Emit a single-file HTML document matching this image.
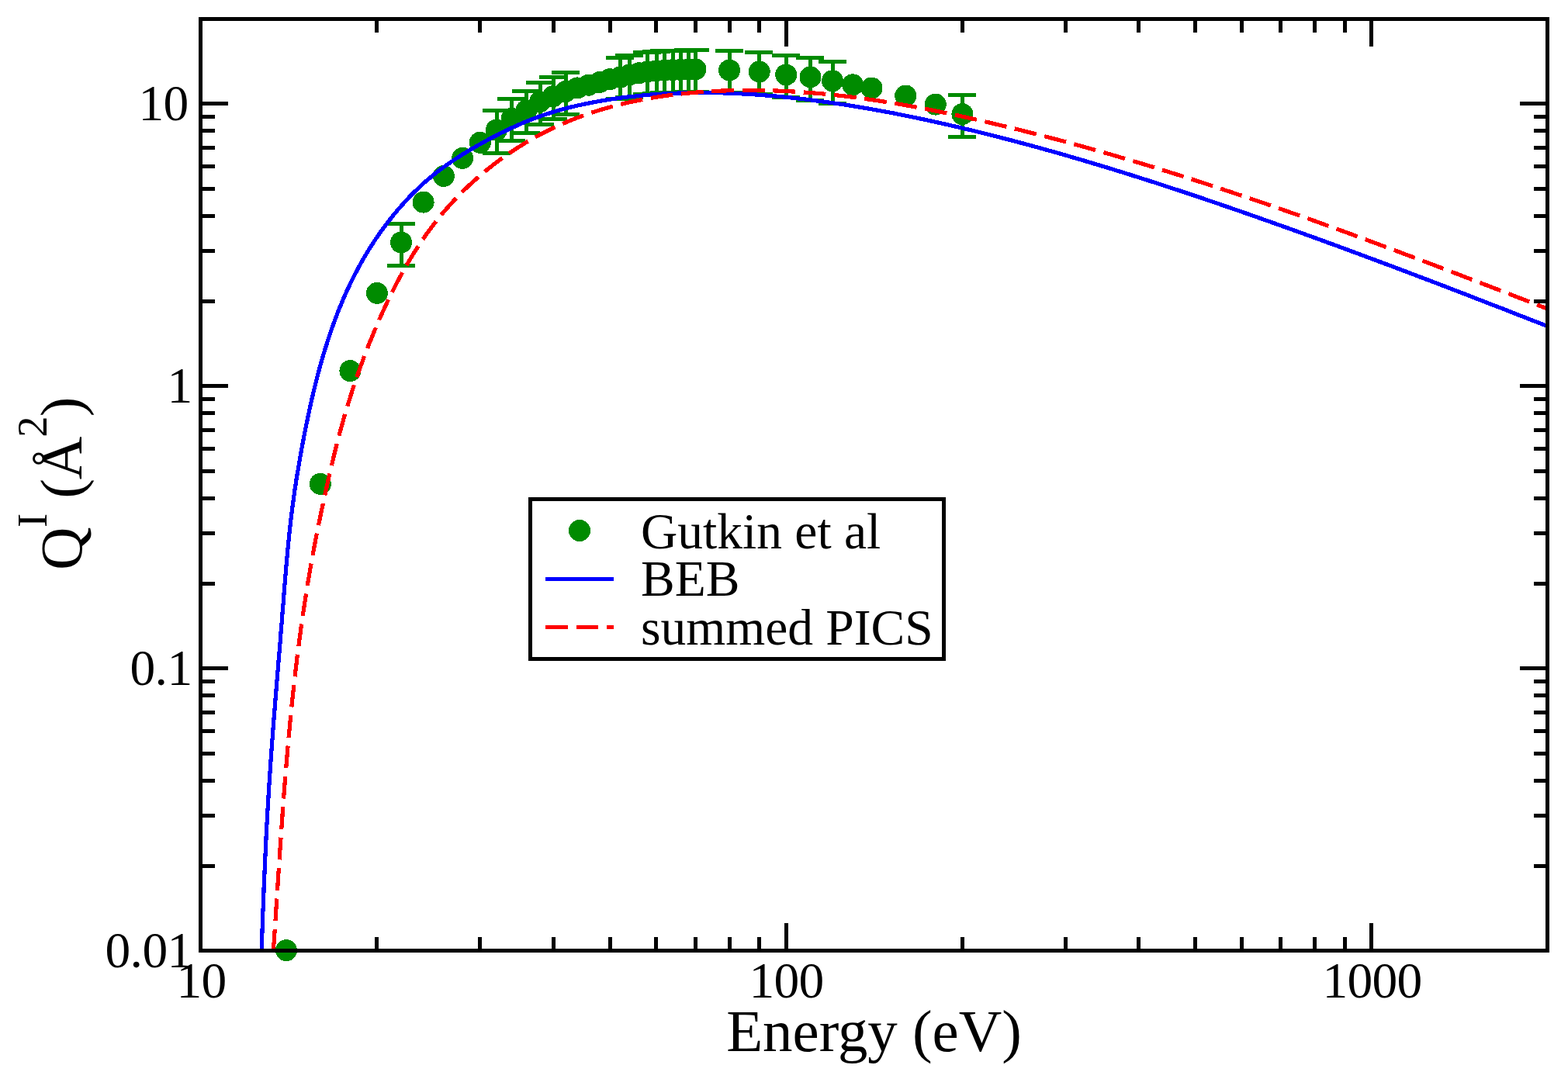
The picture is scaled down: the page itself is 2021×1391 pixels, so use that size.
<!DOCTYPE html>
<html lang="en"><head><meta charset="utf-8">
<style>html,body{margin:0;padding:0;background:#fff}body{width:2021px;height:1391px;overflow:hidden}svg{display:block}text{font-family:"Liberation Serif","DejaVu Serif",serif;fill:#000}.t{font-size:65.5px}.l{font-size:76.9px}</style></head><body>
<svg width="2021" height="1391" viewBox="0 0 2021 1391">
<rect width="2021" height="1391" fill="#fff"/>
<defs><clipPath id="c"><rect x="258.8" y="24.1" width="1736.0" height="1201.6"/></clipPath></defs>
<path d="M515 286h5v59h-5zM499 286h36v5h-36zM499 340h36v5h-36zM638 140h5v60h-5zM622 140h36v5h-36zM622 195h36v5h-36zM657 125h5v59h-5zM641 125h36v5h-36zM641 179h36v5h-36zM676 115h5v59h-5zM660 115h36v5h-36zM660 169h36v5h-36zM694 104h5v59h-5zM678 104h36v5h-36zM678 158h36v5h-36zM711 97h5v59h-5zM695 97h36v5h-36zM695 151h36v5h-36zM727 91h5v59h-5zM711 91h36v5h-36zM711 145h36v5h-36zM797 72h5v58h-5zM781 72h36v5h-36zM781 125h36v5h-36zM809 69h5v59h-5zM793 69h36v5h-36zM793 123h36v5h-36zM832 65h5v59h-5zM816 65h36v5h-36zM816 119h36v5h-36zM844 64h5v59h-5zM828 64h36v5h-36zM828 118h36v5h-36zM854 63h5v59h-5zM838 63h36v5h-36zM838 117h36v5h-36zM865 63h5v59h-5zM849 63h36v5h-36zM849 117h36v5h-36zM875 63h5v59h-5zM859 63h36v5h-36zM859 117h36v5h-36zM885 62h5v59h-5zM869 62h36v5h-36zM869 116h36v5h-36zM894 62h5v59h-5zM878 62h36v5h-36zM878 116h36v5h-36zM938 63h5v59h-5zM922 63h36v5h-36zM922 117h36v5h-36zM976 65h5v59h-5zM960 65h36v5h-36zM960 119h36v5h-36zM1011 69h5v59h-5zM995 69h36v5h-36zM995 123h36v5h-36zM1042 72h5v60h-5zM1026 72h36v5h-36zM1026 127h36v5h-36zM1071 77h5v59h-5zM1055 77h36v5h-36zM1055 131h36v5h-36zM1238 120h5v59h-5zM1222 120h36v5h-36zM1222 174h36v5h-36z" fill="#008b00" shape-rendering="crispEdges"/>
<g fill="#008b00" shape-rendering="crispEdges">
<circle cx="369.0" cy="1225.2" r="14.0"/>
<circle cx="412.8" cy="623.9" r="14.0"/>
<circle cx="451.4" cy="478.1" r="14.0"/>
<circle cx="485.9" cy="377.9" r="14.0"/>
<circle cx="517.1" cy="312.5" r="14.0"/>
<circle cx="545.6" cy="260.6" r="14.0"/>
<circle cx="571.9" cy="227.0" r="14.0"/>
<circle cx="596.2" cy="203.8" r="14.0"/>
<circle cx="618.8" cy="183.8" r="14.0"/>
<circle cx="639.9" cy="167.6" r="14.0"/>
<circle cx="659.8" cy="152.7" r="14.0"/>
<circle cx="678.5" cy="142.2" r="14.0"/>
<circle cx="696.2" cy="131.1" r="14.0"/>
<circle cx="713.0" cy="124.2" r="14.0"/>
<circle cx="729.0" cy="118.0" r="14.0"/>
<circle cx="744.2" cy="113.4" r="14.0"/>
<circle cx="758.8" cy="109.7" r="14.0"/>
<circle cx="772.8" cy="106.0" r="14.0"/>
<circle cx="786.1" cy="102.2" r="14.0"/>
<circle cx="799.0" cy="99.7" r="14.0"/>
<circle cx="811.4" cy="96.3" r="14.0"/>
<circle cx="823.3" cy="94.3" r="14.0"/>
<circle cx="834.8" cy="92.3" r="14.0"/>
<circle cx="845.9" cy="91.3" r="14.0"/>
<circle cx="856.6" cy="90.7" r="14.0"/>
<circle cx="867.0" cy="90.2" r="14.0"/>
<circle cx="877.1" cy="89.8" r="14.0"/>
<circle cx="886.9" cy="89.5" r="14.0"/>
<circle cx="896.4" cy="89.3" r="14.0"/>
<circle cx="940.1" cy="90.5" r="14.0"/>
<circle cx="978.7" cy="92.4" r="14.0"/>
<circle cx="1013.2" cy="96.4" r="14.0"/>
<circle cx="1044.5" cy="99.4" r="14.0"/>
<circle cx="1073.0" cy="104.3" r="14.0"/>
<circle cx="1099.2" cy="109.3" r="14.0"/>
<circle cx="1123.5" cy="113.6" r="14.0"/>
<circle cx="1167.2" cy="123.5" r="14.0"/>
<circle cx="1205.8" cy="134.6" r="14.0"/>
<circle cx="1240.4" cy="147.1" r="14.0"/>
</g>
<g fill="none" stroke-width="5.2" clip-path="url(#c)" shape-rendering="crispEdges">
<path d="M336.7 1237.0 L337.0 1230.4 L337.2 1223.8 L337.4 1217.2 L337.6 1210.6 L337.9 1204.0 L338.1 1197.4 L338.4 1190.8 L338.6 1184.2 L338.8 1177.6 L339.1 1171.0 L339.4 1164.3 L339.6 1157.7 L339.9 1151.1 L340.1 1144.5 L340.4 1137.9 L340.7 1131.3 L341.0 1124.7 L341.3 1118.1 L341.6 1111.5 L341.9 1104.9 L342.2 1098.3 L342.5 1091.7 L342.8 1085.1 L343.1 1078.5 L343.5 1071.9 L343.8 1065.3 L344.2 1058.7 L344.5 1052.1 L344.9 1045.5 L345.3 1038.9 L345.7 1032.3 L346.1 1025.7 L346.5 1019.1 L346.9 1012.5 L347.3 1005.9 L347.7 999.3 L348.2 992.7 L348.6 986.1 L349.1 979.5 L349.6 972.9 L350.0 966.3 L350.5 959.8 L351.0 953.2 L351.5 946.6 L352.0 940.0 L352.5 933.4 L353.0 926.8 L353.5 920.2 L354.1 913.6 L354.6 907.0 L355.1 900.5 L355.7 893.9 L356.2 887.3 L356.7 880.7 L357.3 874.1 L357.8 867.5 L358.4 860.9 L358.9 854.3 L359.4 847.8 L360.0 841.2 L360.5 834.6 L361.1 828.0 L361.6 821.4 L362.1 814.8 L362.7 808.2 L363.2 801.6 L363.7 795.0 L364.2 788.4 L364.8 781.8 L365.3 775.3 L365.8 768.7 L366.3 762.1 L366.8 755.5 L367.4 748.9 L367.9 742.3 L368.5 735.7 L369.0 729.1 L369.6 722.5 L370.2 715.9 L370.8 709.4 L371.4 702.8 L372.1 696.2 L372.7 689.6 L373.4 683.1 L374.2 676.5 L374.9 669.9 L375.7 663.4 L376.5 656.8 L377.4 650.3 L378.3 643.8 L379.2 637.2 L380.1 630.7 L381.1 624.2 L382.1 617.7 L383.2 611.1 L384.3 604.6 L385.4 598.1 L386.5 591.6 L387.6 585.1 L388.8 578.6 L390.0 572.1 L391.3 565.6 L392.5 559.1 L393.8 552.6 L395.1 546.1 L396.5 539.6 L397.8 533.2 L399.2 526.7 L400.7 520.2 L402.1 513.7 L403.6 507.3 L405.2 500.8 L406.7 494.4 L408.4 488.0 L410.0 481.6 L411.7 475.2 L413.5 468.8 L415.3 462.5 L417.2 456.1 L419.1 449.8 L421.1 443.5 L423.1 437.2 L425.2 430.9 L427.3 424.7 L429.5 418.5 L431.8 412.3 L434.1 406.1 L436.5 400.0 L439.0 393.8 L441.5 387.8 L444.1 381.7 L446.8 375.7 L449.6 369.7 L452.4 363.7 L455.4 357.8 L458.4 351.9 L461.5 346.1 L464.6 340.3 L467.9 334.5 L471.2 328.8 L474.6 323.2 L478.1 317.5 L481.7 312.0 L485.4 306.5 L489.1 301.0 L493.0 295.7 L496.9 290.3 L501.0 285.1 L505.1 279.9 L509.2 274.7 L513.5 269.7 L517.9 264.7 L522.3 259.8 L526.8 254.9 L531.4 250.2 L536.1 245.6 L540.8 241.0 L545.7 236.5 L550.6 232.2 L555.7 228.0 L560.8 223.8 L566.0 219.8 L571.3 215.9 L576.7 212.0 L582.1 208.3 L587.6 204.6 L593.2 201.0 L598.8 197.5 L604.4 194.1 L610.2 190.7 L615.9 187.4 L621.7 184.2 L627.5 181.0 L633.3 177.8 L639.2 174.8 L645.1 171.8 L651.0 168.9 L657.0 166.0 L663.0 163.3 L669.0 160.6 L675.1 158.0 L681.2 155.5 L687.4 153.1 L693.6 150.8 L699.8 148.6 L706.0 146.6 L712.3 144.6 L718.7 142.7 L725.0 140.9 L731.4 139.2 L737.8 137.6 L744.3 136.1 L750.7 134.7 L757.2 133.3 L763.7 132.1 L770.2 130.9 L776.7 129.7 L783.3 128.7 L789.8 127.6 L796.3 126.7 L802.9 125.8 L809.4 125.0 L816.0 124.3 L822.6 123.6 L829.1 122.9 L835.7 122.3 L842.3 121.8 L848.9 121.4 L855.5 120.9 L862.1 120.6 L868.6 120.3 L875.2 120.0 L881.8 119.8 L888.5 119.7 L895.1 119.6 L901.7 119.6 L908.3 119.6 L914.9 119.6 L921.5 119.7 L928.1 119.8 L934.7 120.0 L941.3 120.3 L947.9 120.5 L954.5 120.8 L961.2 121.2 L967.8 121.6 L974.4 122.0 L981.0 122.5 L987.6 123.0 L994.2 123.6 L1000.8 124.1 L1007.3 124.7 L1013.9 125.4 L1020.5 126.1 L1027.1 126.8 L1033.6 127.5 L1040.2 128.3 L1046.8 129.1 L1053.3 130.0 L1059.9 130.9 L1066.4 131.8 L1073.0 132.7 L1079.5 133.6 L1086.1 134.6 L1092.6 135.6 L1099.1 136.7 L1105.6 137.8 L1112.1 138.8 L1118.7 140.0 L1125.2 141.1 L1131.7 142.3 L1138.2 143.5 L1144.7 144.7 L1151.2 145.9 L1157.7 147.2 L1164.1 148.5 L1170.6 149.8 L1177.1 151.1 L1183.6 152.5 L1190.0 153.8 L1196.5 155.2 L1203.0 156.6 L1209.4 158.1 L1215.9 159.5 L1222.3 161.0 L1228.7 162.5 L1235.2 163.9 L1241.6 165.5 L1248.0 167.0 L1254.5 168.5 L1260.9 170.1 L1267.3 171.7 L1273.7 173.3 L1280.1 174.9 L1286.5 176.5 L1292.9 178.2 L1299.3 179.8 L1305.7 181.5 L1312.1 183.2 L1318.5 184.9 L1324.9 186.6 L1331.2 188.3 L1337.6 190.1 L1344.0 191.8 L1350.3 193.6 L1356.7 195.4 L1363.1 197.2 L1369.4 199.0 L1375.8 200.8 L1382.1 202.7 L1388.5 204.5 L1394.8 206.4 L1401.1 208.3 L1407.5 210.2 L1413.8 212.1 L1420.1 214.0 L1426.5 215.9 L1432.8 217.8 L1439.1 219.8 L1445.4 221.7 L1451.7 223.7 L1458.0 225.7 L1464.3 227.7 L1470.6 229.7 L1476.9 231.7 L1483.2 233.7 L1489.5 235.7 L1495.8 237.8 L1502.1 239.8 L1508.4 241.9 L1514.7 244.0 L1520.9 246.0 L1527.2 248.1 L1533.5 250.2 L1539.8 252.3 L1546.0 254.4 L1552.3 256.5 L1558.6 258.7 L1564.8 260.8 L1571.1 262.9 L1577.3 265.1 L1583.6 267.2 L1589.8 269.4 L1596.1 271.5 L1602.3 273.7 L1608.6 275.9 L1614.8 278.1 L1621.1 280.3 L1627.3 282.5 L1633.5 284.7 L1639.8 286.9 L1646.0 289.1 L1652.2 291.3 L1658.4 293.5 L1664.7 295.8 L1670.9 298.0 L1677.1 300.2 L1683.3 302.5 L1689.5 304.7 L1695.8 307.0 L1702.0 309.2 L1708.2 311.5 L1714.4 313.8 L1720.6 316.0 L1726.8 318.3 L1733.0 320.6 L1739.2 322.9 L1745.4 325.2 L1751.6 327.5 L1757.8 329.8 L1764.0 332.1 L1770.2 334.4 L1776.4 336.7 L1782.5 339.0 L1788.7 341.3 L1794.9 343.6 L1801.1 346.0 L1807.3 348.3 L1813.5 350.6 L1819.7 353.0 L1825.8 355.3 L1832.0 357.7 L1838.2 360.0 L1844.4 362.4 L1850.5 364.7 L1856.7 367.1 L1862.9 369.4 L1869.1 371.8 L1875.2 374.2 L1881.4 376.6 L1887.6 378.9 L1893.7 381.3 L1899.9 383.7 L1906.0 386.1 L1912.2 388.5 L1918.4 390.9 L1924.5 393.3 L1930.7 395.6 L1936.9 398.0 L1943.0 400.4 L1949.2 402.9 L1955.3 405.3 L1961.5 407.7 L1967.6 410.1 L1973.8 412.5 L1980.0 414.9 L1986.1 417.3 L1992.3 419.7 L1998.4 422.2 L2004.6 424.6 L2010.7 427.0 L2016.9 429.4 L2023.0 431.9 L2029.2 434.3 L2035.3 436.7 L2041.5 439.2 L2047.6 441.6 L2053.8 444.0 L2059.9 446.5" stroke="#0000ff"/>
<path d="M351.6 1237.0 L352.1 1230.5 L352.5 1224.1 L352.9 1217.6 L353.4 1211.2 L353.8 1204.7 L354.2 1198.2 L354.6 1191.8 L355.1 1185.3 L355.5 1178.9 L355.9 1172.4 L356.3 1165.9 L356.7 1159.5 L357.2 1153.0 L357.6 1146.6 L358.0 1140.1 L358.4 1133.6 L358.8 1127.2 L359.3 1120.7 L359.7 1114.3 L360.1 1107.8 L360.6 1101.3 L361.0 1094.9 L361.4 1088.4 L361.9 1081.9 L362.3 1075.5 L362.8 1069.0 L363.2 1062.5 L363.7 1056.1 L364.1 1049.6 L364.6 1043.2 L365.1 1036.7 L365.6 1030.2 L366.0 1023.8 L366.5 1017.3 L367.0 1010.9 L367.5 1004.4 L368.1 998.0 L368.6 991.5 L369.1 985.0 L369.7 978.6 L370.2 972.1 L370.8 965.7 L371.3 959.2 L371.9 952.8 L372.5 946.3 L373.1 939.9 L373.7 933.4 L374.3 927.0 L374.9 920.6 L375.6 914.1 L376.2 907.7 L376.9 901.2 L377.6 894.8 L378.3 888.4 L379.0 881.9 L379.7 875.5 L380.4 869.1 L381.2 862.6 L382.0 856.2 L382.7 849.8 L383.5 843.4 L384.3 836.9 L385.2 830.5 L386.0 824.1 L386.9 817.7 L387.7 811.3 L388.6 804.9 L389.5 798.5 L390.5 792.1 L391.4 785.7 L392.4 779.3 L393.4 772.9 L394.4 766.5 L395.4 760.1 L396.4 753.7 L397.5 747.3 L398.6 740.9 L399.7 734.5 L400.8 728.2 L401.9 721.8 L403.1 715.4 L404.3 709.0 L405.5 702.7 L406.7 696.3 L407.9 690.0 L409.2 683.6 L410.5 677.2 L411.8 670.9 L413.1 664.6 L414.4 658.2 L415.8 651.9 L417.1 645.5 L418.5 639.2 L419.9 632.9 L421.3 626.6 L422.7 620.2 L424.1 613.9 L425.6 607.6 L427.1 601.3 L428.6 595.0 L430.1 588.8 L431.6 582.5 L433.2 576.2 L434.8 569.9 L436.5 563.7 L438.1 557.4 L439.8 551.2 L441.6 545.0 L443.3 538.7 L445.1 532.5 L447.0 526.3 L448.8 520.1 L450.8 514.0 L452.7 507.8 L454.7 501.6 L456.7 495.5 L458.8 489.4 L460.9 483.3 L463.1 477.1 L465.2 471.1 L467.5 465.0 L469.7 458.9 L472.0 452.9 L474.4 446.8 L476.8 440.8 L479.2 434.8 L481.7 428.8 L484.2 422.8 L486.7 416.8 L489.3 410.9 L492.0 404.9 L494.7 399.0 L497.4 393.1 L500.2 387.2 L503.0 381.4 L505.9 375.6 L508.8 369.8 L511.8 364.0 L514.9 358.3 L518.0 352.6 L521.1 347.0 L524.4 341.3 L527.6 335.8 L531.0 330.2 L534.4 324.7 L537.9 319.3 L541.4 313.9 L545.0 308.6 L548.7 303.3 L552.5 298.0 L556.3 292.8 L560.2 287.7 L564.2 282.6 L568.3 277.6 L572.4 272.7 L576.7 267.8 L581.0 263.0 L585.4 258.2 L589.8 253.6 L594.3 248.9 L598.9 244.4 L603.6 239.9 L608.4 235.5 L613.2 231.2 L618.1 226.9 L623.0 222.7 L628.0 218.6 L633.1 214.6 L638.2 210.6 L643.4 206.7 L648.7 202.9 L654.0 199.2 L659.4 195.5 L664.8 192.0 L670.3 188.5 L675.8 185.1 L681.4 181.8 L687.0 178.6 L692.6 175.4 L698.4 172.4 L704.1 169.4 L709.9 166.6 L715.8 163.8 L721.7 161.1 L727.6 158.5 L733.5 156.0 L739.5 153.6 L745.6 151.3 L751.6 149.0 L757.7 146.9 L763.8 144.8 L770.0 142.8 L776.2 141.0 L782.4 139.2 L788.6 137.4 L794.9 135.8 L801.1 134.2 L807.4 132.7 L813.8 131.3 L820.1 130.0 L826.5 128.7 L832.8 127.5 L839.2 126.4 L845.6 125.3 L852.1 124.3 L858.5 123.4 L864.9 122.5 L871.4 121.7 L877.8 121.0 L884.3 120.3 L890.8 119.7 L897.2 119.1 L903.7 118.6 L910.2 118.2 L916.7 117.8 L923.2 117.4 L929.6 117.1 L936.1 116.9 L942.6 116.7 L949.0 116.5 L955.5 116.4 L962.0 116.4 L968.5 116.4 L974.9 116.4 L981.4 116.5 L987.8 116.6 L994.3 116.8 L1000.8 117.0 L1007.2 117.3 L1013.7 117.6 L1020.1 117.9 L1026.6 118.3 L1033.0 118.7 L1039.4 119.2 L1045.9 119.7 L1052.3 120.2 L1058.7 120.8 L1065.2 121.4 L1071.6 122.1 L1078.0 122.8 L1084.5 123.5 L1090.9 124.2 L1097.3 125.0 L1103.7 125.9 L1110.1 126.7 L1116.5 127.6 L1122.9 128.5 L1129.3 129.5 L1135.7 130.4 L1142.1 131.5 L1148.5 132.5 L1154.9 133.6 L1161.3 134.6 L1167.7 135.8 L1174.1 136.9 L1180.4 138.1 L1186.8 139.3 L1193.2 140.5 L1199.6 141.7 L1205.9 143.0 L1212.3 144.3 L1218.6 145.6 L1225.0 146.9 L1231.3 148.3 L1237.7 149.6 L1244.0 151.0 L1250.3 152.4 L1256.7 153.8 L1263.0 155.3 L1269.3 156.7 L1275.6 158.2 L1281.9 159.7 L1288.3 161.2 L1294.6 162.7 L1300.9 164.2 L1307.2 165.8 L1313.5 167.3 L1319.7 168.9 L1326.0 170.5 L1332.3 172.1 L1338.6 173.7 L1344.9 175.3 L1351.1 176.9 L1357.4 178.6 L1363.6 180.2 L1369.9 181.9 L1376.1 183.6 L1382.4 185.3 L1388.6 187.0 L1394.9 188.7 L1401.1 190.5 L1407.4 192.2 L1413.6 194.0 L1419.8 195.8 L1426.0 197.5 L1432.3 199.3 L1438.5 201.1 L1444.7 203.0 L1450.9 204.8 L1457.1 206.6 L1463.3 208.5 L1469.5 210.3 L1475.7 212.2 L1481.9 214.1 L1488.1 216.0 L1494.3 217.9 L1500.4 219.8 L1506.6 221.7 L1512.8 223.7 L1519.0 225.6 L1525.1 227.6 L1531.3 229.5 L1537.5 231.5 L1543.6 233.5 L1549.8 235.5 L1555.9 237.5 L1562.1 239.5 L1568.2 241.5 L1574.4 243.5 L1580.5 245.6 L1586.7 247.6 L1592.8 249.7 L1598.9 251.7 L1605.1 253.8 L1611.2 255.9 L1617.3 257.9 L1623.5 260.0 L1629.6 262.1 L1635.7 264.2 L1641.8 266.4 L1647.9 268.5 L1654.0 270.6 L1660.2 272.8 L1666.3 274.9 L1672.4 277.0 L1678.5 279.2 L1684.6 281.4 L1690.7 283.5 L1696.8 285.7 L1702.9 287.9 L1709.0 290.1 L1715.1 292.3 L1721.1 294.5 L1727.2 296.7 L1733.3 298.9 L1739.4 301.1 L1745.5 303.4 L1751.6 305.6 L1757.6 307.8 L1763.7 310.1 L1769.8 312.3 L1775.9 314.6 L1781.9 316.8 L1788.0 319.1 L1794.1 321.3 L1800.1 323.6 L1806.2 325.9 L1812.3 328.2 L1818.3 330.4 L1824.4 332.7 L1830.5 335.0 L1836.5 337.3 L1842.6 339.6 L1848.6 341.9 L1854.7 344.2 L1860.7 346.5 L1866.8 348.8 L1872.8 351.1 L1878.9 353.4 L1884.9 355.7 L1891.0 358.1 L1897.0 360.4 L1903.1 362.7 L1909.1 365.0 L1915.2 367.4 L1921.2 369.7 L1927.2 372.0 L1933.3 374.4 L1939.3 376.7 L1945.4 379.0 L1951.4 381.4 L1957.4 383.7 L1963.5 386.0 L1969.5 388.4 L1975.5 390.7 L1981.6 393.1 L1987.6 395.4 L1993.6 397.8 L1999.7 400.1 L2005.7 402.5 L2011.7 404.8 L2017.8 407.1 L2023.8 409.5 L2029.8 411.8 L2035.9 414.2 L2041.9 416.5 L2047.9 418.9 L2054.0 421.2 L2060.0 423.6" stroke="#ff0000" stroke-dasharray="28.8 10.7" stroke-dashoffset="-10.4"/>
</g>
<path d="M483 1208h5v15h-5zM483 27h5v15h-5zM616 1208h5v15h-5zM616 27h5v15h-5zM711 1208h5v15h-5zM711 27h5v15h-5zM784 1208h5v15h-5zM784 27h5v15h-5zM843 1208h5v15h-5zM843 27h5v15h-5zM894 1208h5v15h-5zM894 27h5v15h-5zM938 1208h5v15h-5zM938 27h5v15h-5zM976 1208h5v15h-5zM976 27h5v15h-5zM1011 1190h5v33h-5zM1011 27h5v33h-5zM1238 1208h5v15h-5zM1238 27h5v15h-5zM1371 1208h5v15h-5zM1371 27h5v15h-5zM1465 1208h5v15h-5zM1465 27h5v15h-5zM1538 1208h5v15h-5zM1538 27h5v15h-5zM1598 1208h5v15h-5zM1598 27h5v15h-5zM1648 1208h5v15h-5zM1648 27h5v15h-5zM1692 1208h5v15h-5zM1692 27h5v15h-5zM1731 1208h5v15h-5zM1731 27h5v15h-5zM1765 1190h5v33h-5zM1765 27h5v33h-5zM261 1114h16v5h-16zM1977 1114h15v5h-15zM261 1049h16v5h-16zM1977 1049h15v5h-15zM261 1004h16v5h-16zM1977 1004h15v5h-15zM261 969h16v5h-16zM1977 969h15v5h-15zM261 940h16v5h-16zM1977 940h15v5h-15zM261 916h16v5h-16zM1977 916h15v5h-15zM261 894h16v5h-16zM1977 894h15v5h-15zM261 876h16v5h-16zM1977 876h15v5h-15zM261 859h33v5h-33zM1959 859h33v5h-33zM261 750h16v5h-16zM1977 750h15v5h-15zM261 685h16v5h-16zM1977 685h15v5h-15zM261 640h16v5h-16zM1977 640h15v5h-15zM261 605h16v5h-16zM1977 605h15v5h-15zM261 576h16v5h-16zM1977 576h15v5h-15zM261 552h16v5h-16zM1977 552h15v5h-15zM261 530h16v5h-16zM1977 530h15v5h-15zM261 512h16v5h-16zM1977 512h15v5h-15zM261 495h33v5h-33zM1959 495h33v5h-33zM261 386h16v5h-16zM1977 386h15v5h-15zM261 321h16v5h-16zM1977 321h15v5h-15zM261 276h16v5h-16zM1977 276h15v5h-15zM261 241h16v5h-16zM1977 241h15v5h-15zM261 212h16v5h-16zM1977 212h15v5h-15zM261 188h16v5h-16zM1977 188h15v5h-15zM261 166h16v5h-16zM1977 166h15v5h-15zM261 148h16v5h-16zM1977 148h15v5h-15zM261 131h33v5h-33zM1959 131h33v5h-33zM256 22h1741v5h-1741zM256 1223h1741v5h-1741zM256 22h5v1206h-5zM1992 22h5v1206h-5z" fill="#000" shape-rendering="crispEdges"/>
<text class="t" x="178.5 210.5" y="155.0">10</text>
<text class="t" x="215.4" y="519.0">1</text>
<text class="t" x="167.4 199.4 215.4" y="883.0">0.1</text>
<text class="t" x="135.4 167.6 183.6 215.4" y="1247.0">0.01</text>
<text class="t" x="227.4 259.5" y="1286.3">10</text>
<text class="t" x="965.4 997.5 1029.6" y="1286.3">100</text>
<text class="t" x="1704.5 1736.5 1768.5 1800.5" y="1286.3">1000</text>
<text class="l" x="1126.5" y="1355.4" text-anchor="middle">Energy (eV)</text>
<text class="l" transform="translate(104.8 735.0) rotate(-90)" text-anchor="start">Q<tspan dx="-0.45" dy="-44.7" style="font-size:54.6px">I</tspan><tspan dy="44.7"> (</tspan><tspan dx="-1.35">Å</tspan><tspan dx="-0.9" dy="-44.7" style="font-size:54.6px">2</tspan><tspan dx="-0.85" dy="44.7">)</tspan></text>
<rect x="683.5" y="643.5" width="533.0" height="206.0" fill="#fff" stroke="#000" stroke-width="5" shape-rendering="crispEdges"/>
<circle cx="747" cy="684" r="14.0" fill="#008b00" shape-rendering="crispEdges"/>
<path d="M703 746.5H791" stroke="#0000ff" stroke-width="5" fill="none" shape-rendering="crispEdges"/>
<path d="M703 808.5H791" stroke="#ff0000" stroke-width="5" fill="none" stroke-dasharray="28.5 11" shape-rendering="crispEdges"/>
<text class="t" x="826.0" y="707.0">Gutkin et al</text>
<text class="t" x="826.0" y="768.4">BEB</text>
<text class="t" x="826.0" y="830.8">summed PICS</text>
</svg></body></html>
